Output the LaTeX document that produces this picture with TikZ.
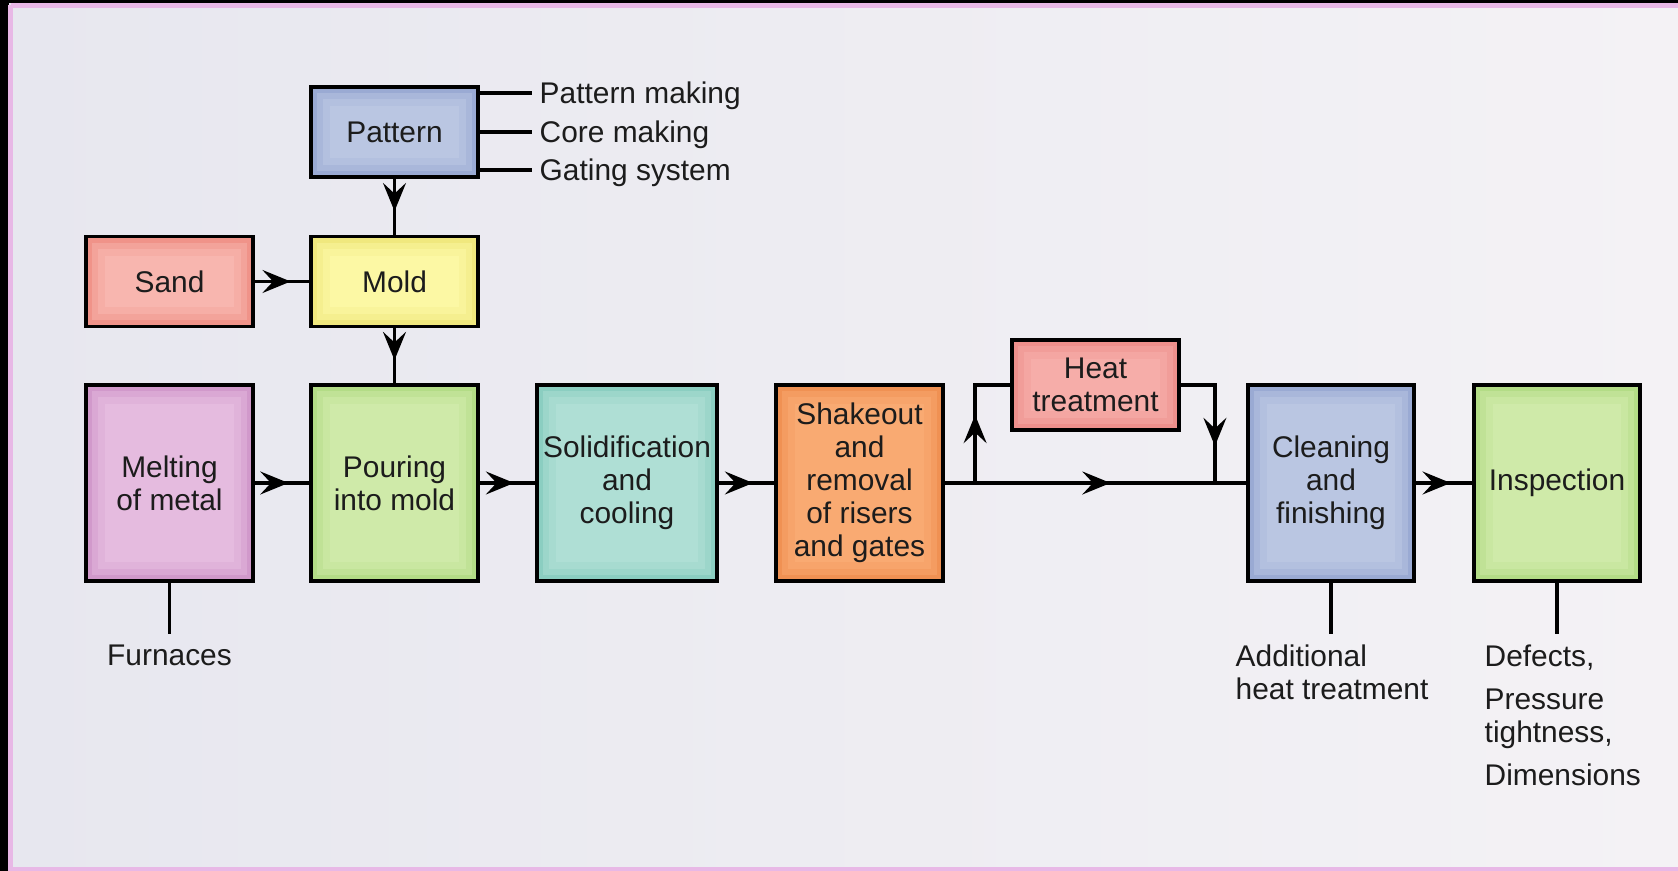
\documentclass[tikz,border=0pt]{standalone}
\usepackage{fontspec}
\setmainfont{Liberation Sans}
\usetikzlibrary{arrows.meta,calc,positioning,decorations.markings}
\definecolor{Ink}{HTML}{1C1C1C}
\definecolor{Panel_Left}{HTML}{E7E7EF}
\definecolor{Panel_Right}{HTML}{F4F2F5}
\definecolor{Panel_Edge}{HTML}{E8B8E6}
\definecolor{Pat_Fill}{HTML}{BAC6E2}
\definecolor{Pat_Edge}{HTML}{8D9FCE}
\definecolor{Sand_Fill}{HTML}{F8B6AF}
\definecolor{Sand_Edge}{HTML}{EE8479}
\definecolor{Mold_Fill}{HTML}{FCF8A4}
\definecolor{Mold_Edge}{HTML}{EDE36E}
\definecolor{Melt_Fill}{HTML}{E5BBDF}
\definecolor{Melt_Edge}{HTML}{C98BC4}
\definecolor{Pour_Fill}{HTML}{CFEAA9}
\definecolor{Pour_Edge}{HTML}{A7D778}
\definecolor{Solid_Fill}{HTML}{AFDFD5}
\definecolor{Solid_Edge}{HTML}{7CC8BA}
\definecolor{Shake_Fill}{HTML}{F9AA72}
\definecolor{Shake_Edge}{HTML}{EE8846}
\definecolor{Heat_Fill}{HTML}{F6ADA9}
\definecolor{Heat_Edge}{HTML}{EC8480}
\newcommand{\boxfont}{\fontsize{8.5pt}{9.4pt}\selectfont}

\begin{document}
\begin{tikzpicture}[x=0.01cm, y=-0.01cm,
    stage/.style 2 args={draw=black, line width=1.05pt, fill=#1, glow=#2,
        font=\boxfont, text=Ink, align=center, inner sep=0pt, minimum width=1.67cm},
    glow/.style={path picture={
        \draw[#1, line width=11pt, opacity=0.15] (path picture bounding box.south west) rectangle (path picture bounding box.north east);
        \draw[#1, line width=7pt, opacity=0.25] (path picture bounding box.south west) rectangle (path picture bounding box.north east);
        \draw[#1, line width=3.5pt, opacity=0.5] (path picture bounding box.south west) rectangle (path picture bounding box.north east);}},
    tall/.style={minimum height=1.96cm},
    short/.style={minimum height=0.90cm},
    link/.style={line width=1.05pt, draw=black},
    flow/.style={link, postaction={decorate}, decoration={markings,
        mark=at position #1 with {\arrow{Stealth[length=8pt, width=6.5pt, inset=3pt]}}}},
    flow/.default=0.62,
    note/.style={font=\boxfont, text=Ink, inner xsep=0pt, inner ysep=3pt},
    side/.style={note, anchor=west, inner xsep=2pt, text depth=0pt}
]
    \useasboundingbox (0,0) rectangle (1678,871);

    % Frame and panel
    \fill[black] (0,0) rectangle (1678,871);
    \shade[left color=Panel_Left, right color=Panel_Right] (9,4) rectangle (1678,871);
    \draw[Panel_Edge, line width=1.2pt] (10.5,5.5) -- (1678,5.5);
    \draw[Panel_Edge, line width=1.2pt] (10.5,5.5) -- (10.5,869.5) -- (1678,869.5);

    % Mold preparation
    \node[stage={Pat_Fill}{Pat_Edge}, short] (pattern) at (394.5,132) {Pattern};
    \node[stage={Sand_Fill}{Sand_Edge}, short] (sand) at (169.5,281.5) {Sand};
    \node[stage={Mold_Fill}{Mold_Edge}, short] (mold) at (394.5,281.5) {Mold};

    % Pattern subtasks
    \node[side] (pmake) at (532,93) {Pattern making};
    \node[side] (cmake) at (532,132) {Core making};
    \node[side] (gsys) at (532,170) {Gating system};
    \draw[link] (pattern.east |- pmake.west) -- (pmake.west);
    \draw[link] (pattern.east |- cmake.west) -- (cmake.west);
    \draw[link] (pattern.east |- gsys.west) -- (gsys.west);

    % Main process line
    \node[stage={Melt_Fill}{Melt_Edge}, tall] (melt) at (169.5,483) {Melting\\of metal};
    \node[stage={Pour_Fill}{Pour_Edge}, tall] (pour) at (394.5,483) {Pouring\\into mold};
    \node[stage={Solid_Fill}{Solid_Edge}, tall, minimum width=1.80cm] (solid) at (627,483) {Solidification\\and\\cooling};
    \node[stage={Shake_Fill}{Shake_Edge}, tall] (shake) at (859.5,483) {Shakeout\\and\\removal\\of risers\\and gates};
    \node[stage={Heat_Fill}{Heat_Edge}, short] (heat) at (1095.5,385) {Heat\\treatment};
    \node[stage={Pat_Fill}{Pat_Edge}, tall, minimum width=1.66cm] (clean) at (1331,483) {Cleaning\\and\\finishing};
    \node[stage={Pour_Fill}{Pour_Edge}, tall, minimum width=1.66cm] (insp) at (1557,483) {Inspection};

    % Flow arrows
    \draw[flow=0.58] (pattern) -- (mold);
    \draw[flow=0.66] (sand) -- (mold);
    \draw[flow=0.58] (mold) -- (pour);
    \draw[flow] (melt) -- (pour);
    \draw[flow] (pour) -- (solid);
    \draw[flow] (solid) -- (shake);
    \draw[flow=0.55] (shake) -- (clean);
    \draw[flow] (clean) -- (insp);

    % Heat treatment loop
    \coordinate (split) at ($(shake.east -| heat.west)+(-35,0)$);
    \coordinate (merge) at ($(clean.west -| heat.east)+(34,0)$);
    \draw[flow=0.68cm] (split) |- (heat.west);
    \draw[flow=0.95cm] (heat.east) -| (merge);

    % Notes below
    \node[note, anchor=north] (furn) at (169.5,634) {Furnaces};
    \draw[link] (melt.south) -- (furn.north);
    \node[note, anchor=north west, align=left] (addl) at (1235,634) {Additional\\heat treatment};
    \draw[link] (clean.south) -- (clean.south |- addl.north);
    \node[note, anchor=north west, align=left] (checks) at (1484,634) {Defects,\\[2.8pt]Pressure\\tightness,\\[2.8pt]Dimensions};
    \draw[link] (insp.south) -- (insp.south |- checks.north);

\end{tikzpicture}
\end{document}
